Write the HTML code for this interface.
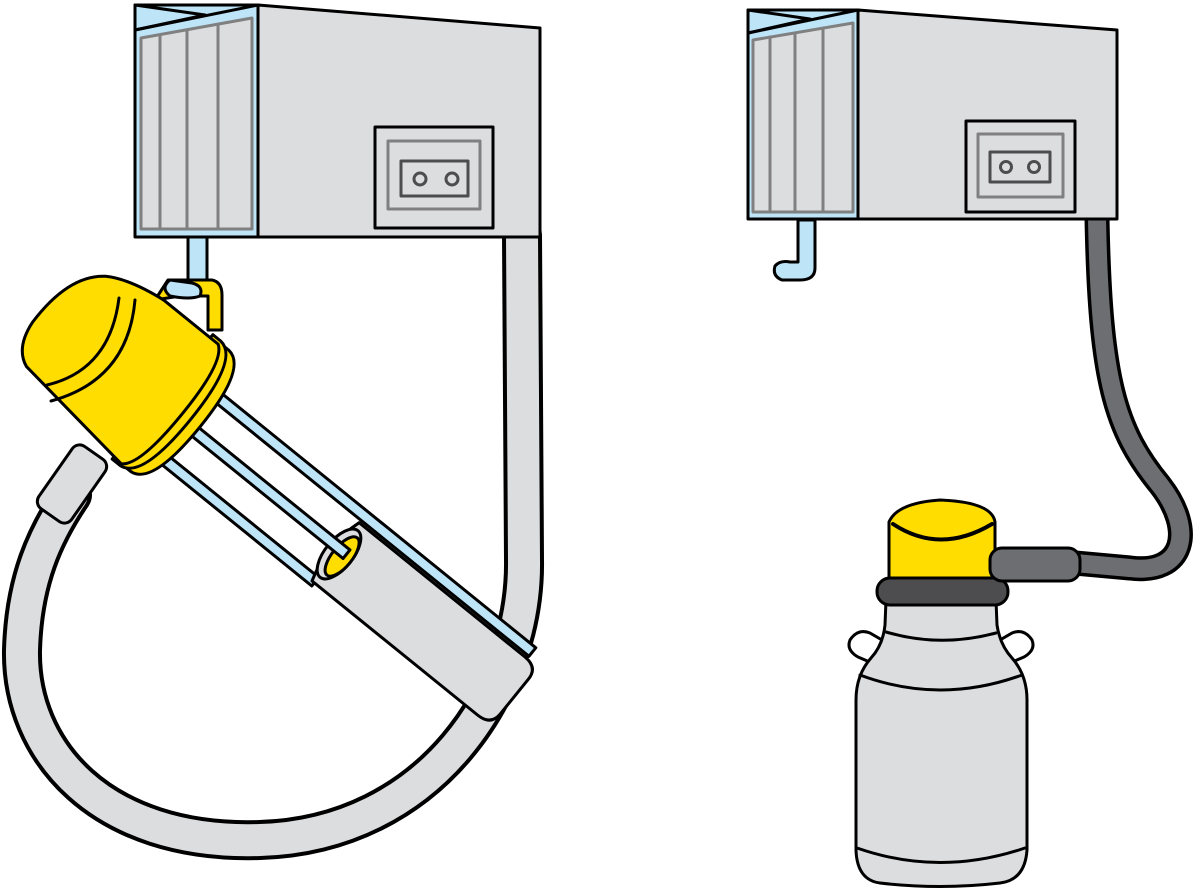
<!DOCTYPE html>
<html><head><meta charset="utf-8"><style>html,body{margin:0;padding:0;background:#fff}svg{display:block}</style></head>
<body>
<svg width="1200" height="891" viewBox="0 0 1200 891" xmlns="http://www.w3.org/2000/svg" stroke-linejoin="round" stroke-linecap="round">
<!-- LEFT hose -->
<path d="M522,235 L524,560 C526,690 430,835 260,840 C100,845 20,750 22,650 C24,580 45,535 72,495" fill="none" stroke="#000" stroke-width="40"/>
<path d="M522,235 L524,560 C526,690 430,835 260,840 C100,845 20,750 22,650 C24,580 45,535 72,495" fill="none" stroke="#dcdddf" stroke-width="32"/>

<!-- LEFT box -->
<polygon points="258,5 540,28 540,237 258,237" fill="#dcdddf" stroke="#000" stroke-width="3"/>
<polygon points="135,5 258,5 258,237 135,237" fill="#bde4f7" stroke="#000" stroke-width="3"/>
<polygon points="135,5 205,15 135,30" fill="#bde4f7" stroke="#000" stroke-width="3"/>
<line x1="135" y1="30" x2="258" y2="5" stroke="#000" stroke-width="3"/>
<polygon points="141,38 252,18 252,229 141,229" fill="#dcdddf" stroke="#808080" stroke-width="3"/>
<line x1="160" y1="35" x2="160" y2="229" stroke="#808080" stroke-width="3"/>
<line x1="187" y1="31" x2="187" y2="229" stroke="#808080" stroke-width="3"/>
<line x1="218" y1="25" x2="218" y2="229" stroke="#808080" stroke-width="3"/>
<rect x="375" y="127" width="118" height="101" fill="#dcdddf" stroke="#000" stroke-width="3"/>
<rect x="388" y="141" width="92" height="68" fill="none" stroke="#808080" stroke-width="3"/>
<rect x="401" y="161" width="67" height="35" fill="none" stroke="#4d4d4f" stroke-width="3"/>
<circle cx="420" cy="179" r="6" fill="none" stroke="#4d4d4f" stroke-width="3"/>
<circle cx="452" cy="179" r="6" fill="none" stroke="#4d4d4f" stroke-width="3"/>
<rect x="188" y="237" width="19" height="45" fill="#bde4f7" stroke="#000" stroke-width="3"/>

<!-- hanger -->
<path d="M155,300 L168,280 L212,280 Q222,282 222,295 L222,330 L208,330 L208,296 L180,296 Z" fill="#ffdd00" stroke="#000" stroke-width="3"/>
<path d="M170,280 Q160,288 170,296 Q190,300 200,296 Q204,286 192,283 Z" fill="#bde4f7" stroke="#000" stroke-width="3"/>

<!-- rotated assembly -->
<g transform="translate(160,400) rotate(39)">
  <rect x="20" y="-44" width="428" height="11" fill="#bde4f7" stroke="#000" stroke-width="3"/>
  <rect x="20" y="38" width="215" height="11" fill="#bde4f7" stroke="#000" stroke-width="3"/>
  <path d="M232,-30 L445,-30 Q462,-30 462,-15 L462,30 Q462,45 445,45 L232,45 Q220,7 232,-30 Z" fill="#dcdddf" stroke="#000" stroke-width="3"/>
  <ellipse cx="236" cy="7" rx="14" ry="30" fill="#dcdddf" stroke="#000" stroke-width="3"/>
  <ellipse cx="240" cy="7" rx="10" ry="24" fill="#ffdd00" stroke="#000" stroke-width="3"/>
  <rect x="20" y="-3" width="222" height="11" fill="#bde4f7" stroke="#000" stroke-width="3"/>
  <!-- cap -->
  <path d="M22,-82 Q48,-80 48,-5 Q48,72 22,74 L0,74 L0,-82 Z" fill="#ffdd00" stroke="#000" stroke-width="3"/>
  <path d="M10,-84 Q36,-82 36,-5 Q36,74 10,76 L0,76 L0,-84 Z" fill="#ffdd00" stroke="#000" stroke-width="3"/>
  <path d="M10,-80 Q26,-70 26,-5 Q26,64 10,74 L-125,58 Q-145,50 -148,20 Q-150,-40 -120,-62 Q-100,-75 -60,-80 Z" fill="#ffdd00" stroke="#000" stroke-width="3"/>
</g>
<path d="M47,385 Q110,370 119,298" fill="none" stroke="#000" stroke-width="3"/>
<path d="M51,401 Q128,380 135,300" fill="none" stroke="#000" stroke-width="3"/>
<!-- connector to hose -->
<g transform="translate(72,484) rotate(35)">
  <rect x="-20" y="-38" width="40" height="76" rx="9" fill="#dcdddf" stroke="#000" stroke-width="3"/>
</g>

<!-- RIGHT dark hose -->
<path d="M1097,218 C1100,380 1115,430 1160,485 C1195,530 1185,575 1130,568 L1075,563" fill="none" stroke="#000" stroke-width="25"/>
<path d="M1097,218 C1100,380 1115,430 1160,485 C1195,530 1185,575 1130,568 L1075,563" fill="none" stroke="#6d6e71" stroke-width="18"/>

<!-- RIGHT box -->
<polygon points="858,10 1117,30 1117,219 858,219" fill="#dcdddf" stroke="#000" stroke-width="3"/>
<polygon points="748,10 858,10 858,219 748,219" fill="#bde4f7" stroke="#000" stroke-width="3"/>
<polygon points="748,10 810,19 748,33" fill="#bde4f7" stroke="#000" stroke-width="3"/>
<line x1="748" y1="33" x2="858" y2="10" stroke="#000" stroke-width="3"/>
<polygon points="753,40 853,23 853,212 753,212" fill="#dcdddf" stroke="#808080" stroke-width="3"/>
<line x1="770" y1="37" x2="770" y2="212" stroke="#808080" stroke-width="3"/>
<line x1="795" y1="33" x2="795" y2="212" stroke="#808080" stroke-width="3"/>
<line x1="823" y1="28" x2="823" y2="212" stroke="#808080" stroke-width="3"/>
<rect x="966" y="121" width="109" height="91" fill="#dcdddf" stroke="#000" stroke-width="3"/>
<rect x="978" y="134" width="85" height="63" fill="none" stroke="#808080" stroke-width="3"/>
<rect x="990" y="152" width="60" height="30" fill="none" stroke="#4d4d4f" stroke-width="3"/>
<circle cx="1006" cy="167" r="5.5" fill="none" stroke="#4d4d4f" stroke-width="3"/>
<circle cx="1034" cy="167" r="5.5" fill="none" stroke="#4d4d4f" stroke-width="3"/>
<path d="M798,220 L815,220 L815,268 Q815,280 800,280 L782,280 Q772,276 775,266 Q780,260 790,262 L798,262 Z" fill="#bde4f7" stroke="#000" stroke-width="3"/>

<!-- bottle -->
<path d="M850,640 Q858,628 870,633 L882,640 L872,663 L858,657 Q846,650 850,640 Z" fill="#fff" stroke="#000" stroke-width="3"/>
<path d="M1032,640 Q1024,628 1012,633 L1000,640 L1010,663 L1024,657 Q1036,650 1032,640 Z" fill="#fff" stroke="#000" stroke-width="3"/>
<path d="M886,600 L996,600 L997,625 Q1000,645 1012,658 Q1027,675 1027,700 L1027,850 Q1025,880 1000,883 Q940,890 880,883 Q857,880 856,850 L856,700 Q856,675 871,658 Q883,645 885,625 Z" fill="#dcdddf" stroke="#000" stroke-width="3"/>
<path d="M886,632 Q940,648 996,633" fill="none" stroke="#000" stroke-width="3"/>
<path d="M860,675 Q940,705 1022,675" fill="none" stroke="#000" stroke-width="3"/>
<path d="M857,848 Q940,877 1025,848" fill="none" stroke="#000" stroke-width="3"/>
<path d="M889,527 L889,585 L995,585 L995,522 Q992,502 940,500 Q897,503 889,522 Z" fill="#ffdd00" stroke="#000" stroke-width="3"/>
<path d="M893,524 Q940,555 992,524" fill="none" stroke="#000" stroke-width="4"/>
<rect x="877" y="578" width="131" height="27" rx="13" fill="#4d4d4f" stroke="#000" stroke-width="3"/>
<rect x="990" y="548" width="90" height="33" rx="12" fill="#6d6e71" stroke="#000" stroke-width="3"/>
</svg>
</body></html>
